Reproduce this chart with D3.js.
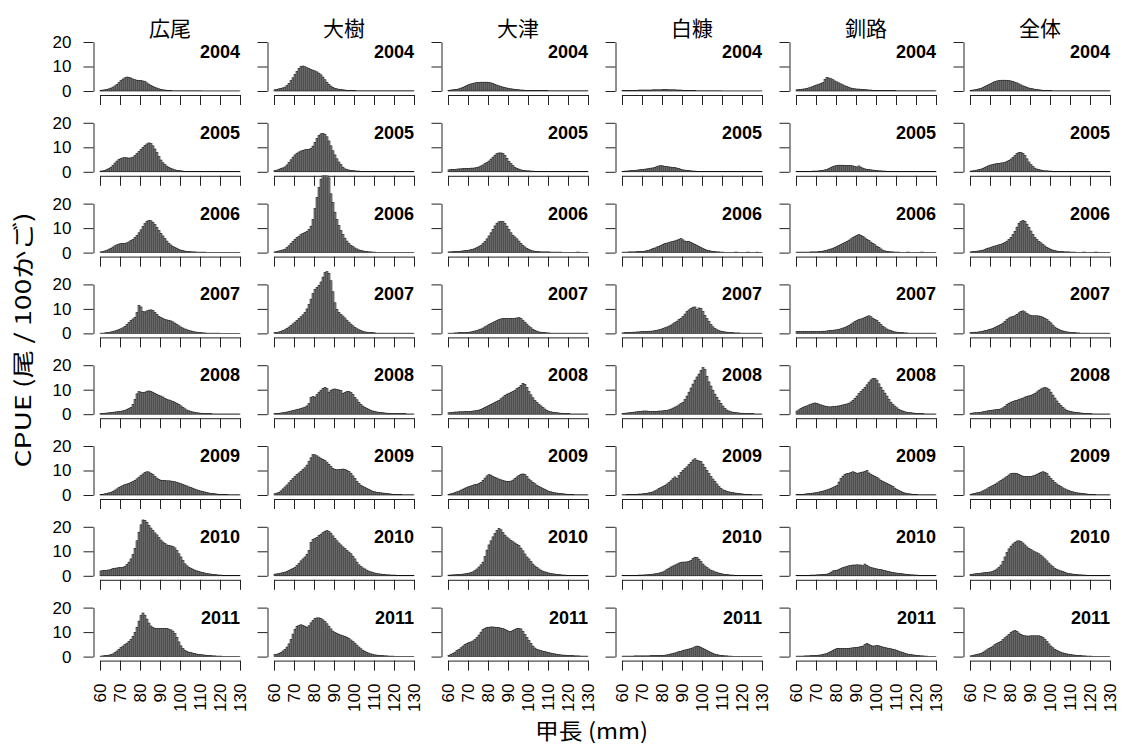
<!DOCTYPE html>
<html>
<head>
<meta charset="utf-8">
<script src="https://cdn.jsdelivr.net/npm/d3@7"></script>
<style>
  body { margin: 0; background: #fff; }
  svg text { font-family: "Liberation Sans", Arial, sans-serif; }
</style>
</head>
<body>
<div id="chart"></div>
<script>
// CPUE (尾/100かご) by carapace length (1 mm bins, 60–129 mm)
const areas = ["広尾", "大樹", "大津", "白糠", "釧路", "全体"];
const years = [2004, 2005, 2006, 2007, 2008, 2009, 2010, 2011];
const firstBin = 60;
const xTicks = [60, 70, 80, 90, 100, 110, 120, 130];
const yTicks = [0, 10, 20];

const hiroo = [
  [0.3,0.4,0.5,0.7,0.9,1.2,1.6,2.1,2.7,3.4,
   4.2,4.9,5.4,5.7,5.6,5.3,4.9,4.6,4.4,4.3,
   4.3,4.1,3.8,3.3,2.8,2.3,1.9,1.5,1.2,0.9,
   0.7,0.5,0.4,0.3,0.2,0.2,0.1,0.1,0.1,0.1,
   0.1,0.1,0.1,0.1,0.1,0.1,0.1,0.1,0.1,0.1,
   0.1,0.05,0.05,0.05,0.05,0.05,0.05,0.05,0.05,0.05,
   0.05,0.05,0.05,0.05,0.05,0.05,0.05,0.05,0.05,0.05],
  [0.3,0.4,0.6,0.9,1.3,1.9,2.7,3.6,4.4,5.0,
   5.4,5.7,5.8,5.7,5.6,5.7,6.0,6.6,7.4,8.3,
   9.2,10.0,10.8,11.4,11.8,11.5,10.6,9.3,7.8,6.2,
   4.8,3.7,2.9,2.3,1.8,1.4,1.1,0.8,0.6,0.5,
   0.4,0.3,0.2,0.2,0.15,0.1,0.1,0.1,0.1,0.1,
   0.1,0.1,0.1,0.1,0.1,0.05,0.05,0.05,0.05,0.05,
   0.05,0.05,0.05,0.05,0.05,0.05,0.05,0.05,0.05,0.05],
  [0.3,0.5,0.7,1.0,1.4,1.8,2.3,2.8,3.2,3.5,
   3.7,3.8,3.8,4.0,4.4,4.9,5.4,6.1,7.0,8.1,
   9.3,10.6,11.8,12.8,13.2,13.0,12.4,11.4,10.2,9.0,
   7.9,6.8,5.7,4.7,3.8,3.1,2.5,2.0,1.6,1.2,
   1.0,0.8,0.6,0.5,0.4,0.35,0.3,0.3,0.2,0.2,
   0.2,0.2,0.2,0.1,0.1,0.1,0.1,0.1,0.1,0.1,
   0.1,0.1,0.1,0.1,0.1,0.1,0.1,0.1,0.1,0.1],
  [0.1,0.1,0.2,0.3,0.4,0.6,0.8,1.0,1.3,1.6,
   1.9,2.3,2.9,3.6,4.4,5.2,5.9,6.6,8.5,11.5,
   10.8,8.9,8.8,9.2,9.5,9.6,9.3,8.6,7.8,7.0,
   6.4,6.0,5.7,5.5,5.3,5.1,4.7,4.2,3.6,3.1,
   2.6,2.2,1.8,1.5,1.2,1.0,0.8,0.6,0.5,0.4,
   0.3,0.2,0.2,0.1,0.1,0.1,0.1,0.1,0.1,0.1,
   0.05,0.05,0.05,0.05,0.05,0.05,0.05,0.05,0.05,0.05],
  [0.2,0.3,0.4,0.5,0.6,0.7,0.8,0.9,1.0,1.1,
   1.2,1.4,1.6,1.9,2.3,2.8,4.0,6.0,8.3,9.2,
   9.0,8.8,9.0,9.4,9.5,9.3,8.9,8.5,8.1,7.7,
   7.4,7.0,6.5,6.1,5.8,5.5,5.2,4.9,4.4,3.9,
   3.4,2.8,2.2,1.7,1.4,1.1,0.9,0.8,0.6,0.5,
   0.4,0.3,0.3,0.2,0.2,0.2,0.1,0.1,0.1,0.1,
   0.1,0.1,0.1,0.1,0.1,0.1,0.1,0.1,0.1,0.1],
  [0.2,0.3,0.5,0.7,0.9,1.1,1.5,2.0,2.5,3.0,
   3.4,3.8,4.2,4.5,4.8,5.1,5.5,6.0,6.6,7.3,
   7.9,8.6,9.2,9.5,9.4,8.9,8.3,7.6,6.9,6.3,
   6.0,5.9,5.9,5.8,5.8,5.7,5.6,5.4,5.1,4.9,
   4.6,4.3,4.0,3.7,3.3,3.0,2.7,2.4,2.1,1.8,
   1.6,1.4,1.2,1.0,0.8,0.7,0.6,0.5,0.4,0.3,
   0.3,0.2,0.2,0.2,0.1,0.1,0.1,0.1,0.1,0.1],
  [2.0,2.1,2.2,2.3,2.4,2.6,2.9,3.1,3.2,3.3,
   3.3,3.5,3.9,4.6,5.6,6.9,8.7,11.2,14.3,17.8,
   20.8,22.8,22.6,21.8,20.6,19.5,18.5,17.5,16.7,15.6,
   14.6,13.8,13.1,12.6,12.4,12.2,11.9,11.4,10.3,9.0,
   7.7,6.2,4.9,4.1,3.5,3.1,2.7,2.3,2.0,1.7,
   1.5,1.3,1.1,0.9,0.8,0.7,0.6,0.5,0.4,0.3,
   0.3,0.2,0.2,0.1,0.1,0.1,0.1,0.1,0.1,0.1],
  [0.2,0.3,0.4,0.5,0.6,0.8,1.1,1.6,2.3,3.0,
   3.7,4.3,4.9,5.5,6.2,7.1,8.3,9.9,12.0,14.5,
   16.8,17.8,16.9,15.3,13.7,12.5,11.8,11.5,11.4,11.4,
   11.5,11.5,11.5,11.4,11.2,10.9,10.4,9.4,7.9,6.0,
   4.4,3.3,2.6,2.1,1.8,1.6,1.4,1.2,1.0,0.9,
   0.8,0.7,0.6,0.5,0.4,0.4,0.3,0.3,0.2,0.2,
   0.2,0.1,0.1,0.1,0.1,0.1,0.1,0.1,0.1,0.1]
];

const taiki = [
  [0.5,0.7,0.9,1.1,1.3,1.6,2.2,3.1,4.2,5.4,
   6.7,8.0,9.2,10.0,10.2,9.9,9.5,9.1,8.8,8.5,
   8.2,7.8,7.3,6.6,5.7,4.6,3.6,2.7,2.0,1.5,
   1.1,0.9,0.7,0.6,0.5,0.4,0.3,0.3,0.2,0.2,
   0.2,0.1,0.1,0.1,0.1,0.1,0.1,0.1,0.1,0.1,
   0.1,0.1,0.1,0.1,0.1,0.1,0.1,0.1,0.1,0.1,
   0.1,0.1,0.1,0.1,0.1,0.1,0.1,0.1,0.1,0.1],
  [0.5,0.7,1.0,1.3,1.6,2.0,2.8,3.8,4.9,6.0,
   6.9,7.6,8.1,8.5,8.8,9.0,9.1,9.2,9.6,10.5,
   12.0,13.6,14.8,15.5,15.7,15.3,14.3,12.6,10.6,8.6,
   6.9,5.3,4.0,2.9,1.9,1.2,0.9,0.7,0.6,0.5,
   0.4,0.3,0.3,0.2,0.1,0.1,0.1,0.1,0.1,0.1,
   0.1,0.1,0.1,0.1,0.1,0.1,0.1,0.1,0.1,0.1,
   0.1,0.1,0.1,0.1,0.1,0.1,0.1,0.1,0.1,0.1],
  [0.3,0.5,0.7,0.9,1.1,1.4,2.0,2.8,3.7,4.6,
   5.4,6.1,6.7,7.3,7.8,8.2,8.7,9.5,10.8,13.5,
   18.0,22.5,26.5,30.0,33.0,35.0,34.0,30.5,24.0,20.5,
   16.5,13.5,11.0,9.0,7.3,5.9,4.7,3.8,3.0,2.4,
   1.9,1.5,1.1,0.9,0.7,0.5,0.4,0.3,0.3,0.2,
   0.2,0.1,0.1,0.1,0.1,0.1,0.1,0.1,0.1,0.1,
   0.1,0.1,0.1,0.1,0.1,0.1,0.1,0.1,0.1,0.1],
  [0.3,0.4,0.6,0.8,1.1,1.5,2.0,2.6,3.2,3.9,
   4.6,5.3,6.0,6.8,7.6,8.6,10.0,11.8,14.0,16.3,
   18.0,18.8,19.6,21.0,23.0,24.8,25.2,24.5,21.5,17.0,
   12.5,9.8,8.6,7.8,7.1,6.3,5.4,4.6,3.8,3.1,
   2.5,1.9,1.5,1.1,0.8,0.6,0.5,0.4,0.3,0.3,
   0.2,0.1,0.1,0.1,0.1,0.1,0.1,0.1,0.1,0.1,
   0.1,0.1,0.1,0.1,0.1,0.1,0.1,0.1,0.1,0.1],
  [0.2,0.3,0.4,0.5,0.6,0.8,0.9,1.1,1.3,1.5,
   1.7,1.9,2.1,2.3,2.6,2.9,3.4,4.3,6.8,7.2,
   7.0,8.0,9.0,9.8,10.5,11.0,10.4,9.0,9.8,10.2,
   10.3,10.1,9.9,9.6,8.5,8.9,9.3,9.2,8.9,8.0,
   6.9,5.9,4.9,4.0,3.3,2.8,2.3,1.9,1.6,1.3,
   1.1,0.9,0.8,0.7,0.6,0.5,0.4,0.4,0.3,0.3,
   0.3,0.2,0.2,0.2,0.2,0.2,0.1,0.1,0.1,0.1],
  [0.5,0.8,1.1,1.7,2.5,3.3,4.1,5.0,5.9,6.7,
   7.5,8.3,9.0,9.7,10.4,11.1,12.2,13.6,15.2,16.5,
   16.4,16.0,15.5,14.9,14.5,14.1,13.4,12.5,11.6,10.9,
   10.5,10.3,10.4,10.5,10.6,10.5,10.1,9.6,8.9,7.8,
   6.7,5.6,4.7,4.0,3.4,3.0,2.6,2.2,1.8,1.5,
   1.3,1.1,1.0,0.9,0.8,0.7,0.6,0.5,0.4,0.3,
   0.3,0.2,0.2,0.2,0.1,0.1,0.1,0.1,0.1,0.1],
  [0.7,0.8,0.9,1.1,1.3,1.5,1.8,2.2,2.6,3.0,
   3.5,4.2,5.1,6.1,6.9,7.7,8.8,10.4,13.5,14.8,
   15.2,15.7,16.4,17.0,17.6,18.2,18.4,18.0,17.4,16.3,
   15.2,14.3,13.4,12.6,11.8,11.1,10.4,9.7,9.0,8.0,
   6.9,5.6,4.5,3.8,3.2,2.8,2.3,1.9,1.6,1.3,
   1.1,0.9,0.8,0.7,0.6,0.5,0.4,0.4,0.3,0.3,
   0.3,0.2,0.2,0.1,0.1,0.1,0.1,0.1,0.1,0.1],
  [0.8,1.0,1.3,1.7,2.3,3.0,3.9,5.2,7.0,9.2,
   11.2,12.4,12.8,13.0,12.8,12.4,12.0,12.6,13.8,14.8,
   15.5,15.8,15.8,15.5,15.0,14.3,13.4,12.4,11.3,10.4,
   9.8,9.4,9.1,8.8,8.5,8.2,7.9,7.4,6.8,6.2,
   5.5,4.7,3.9,3.2,2.6,2.1,1.7,1.4,1.1,0.9,
   0.7,0.6,0.5,0.4,0.4,0.3,0.3,0.2,0.2,0.2,
   0.1,0.1,0.1,0.1,0.1,0.1,0.1,0.1,0.1,0.1]
];

const otsu = [
  [0.3,0.4,0.5,0.6,0.7,0.9,1.2,1.5,1.9,2.3,
   2.6,2.9,3.1,3.3,3.4,3.5,3.6,3.6,3.6,3.6,
   3.5,3.3,3.0,2.7,2.4,2.1,1.8,1.6,1.4,1.2,
   1.0,0.9,0.8,0.7,0.6,0.5,0.4,0.4,0.3,0.3,
   0.3,0.2,0.2,0.2,0.2,0.2,0.2,0.2,0.2,0.2,
   0.1,0.1,0.1,0.1,0.1,0.1,0.1,0.1,0.1,0.1,
   0.1,0.1,0.1,0.1,0.1,0.1,0.1,0.1,0.1,0.1],
  [0.8,0.9,1.0,1.0,1.1,1.2,1.2,1.3,1.3,1.4,
   1.4,1.5,1.5,1.6,1.8,2.0,2.4,2.8,3.3,3.8,
   4.4,5.2,6.0,6.8,7.4,7.7,7.7,7.4,6.6,5.5,
   4.3,3.3,2.5,1.8,1.4,1.1,0.8,0.6,0.5,0.4,
   0.4,0.3,0.3,0.2,0.2,0.2,0.1,0.1,0.1,0.1,
   0.1,0.1,0.1,0.1,0.1,0.1,0.1,0.1,0.1,0.1,
   0.1,0.1,0.1,0.1,0.1,0.1,0.1,0.1,0.1,0.1],
  [0.3,0.3,0.4,0.4,0.5,0.5,0.6,0.7,0.8,0.9,
   1.0,1.2,1.4,1.7,2.0,2.4,3.0,3.7,4.5,5.6,
   6.8,8.1,9.5,10.9,12.0,12.6,12.8,12.7,11.9,10.8,
   9.4,8.1,7.1,6.4,5.6,4.7,3.8,3.0,2.3,1.7,
   1.3,0.9,0.7,0.5,0.4,0.4,0.3,0.3,0.3,0.3,
   0.3,0.2,0.2,0.2,0.2,0.2,0.2,0.1,0.1,0.1,
   0.1,0.1,0.1,0.1,0.2,0.2,0.1,0.1,0.1,0.1],
  [0.1,0.1,0.1,0.2,0.2,0.3,0.3,0.3,0.4,0.4,
   0.5,0.6,0.8,1.0,1.2,1.5,1.8,2.2,2.7,3.1,
   3.6,4.0,4.4,4.8,5.2,5.6,5.9,6.0,6.1,6.0,
   6.0,6.1,6.0,6.2,6.3,6.4,6.0,5.4,4.6,3.8,
   3.0,2.3,1.7,1.2,0.9,0.6,0.5,0.4,0.3,0.2,
   0.2,0.1,0.1,0.1,0.1,0.1,0.1,0.1,0.1,0.1,
   0.1,0.1,0.1,0.1,0.1,0.1,0.1,0.1,0.1,0.1],
  [0.6,0.7,0.8,0.9,0.9,1.0,1.0,1.0,1.1,1.1,
   1.1,1.2,1.3,1.4,1.5,1.7,2.0,2.4,2.8,3.2,
   3.6,4.0,4.4,4.9,5.3,5.7,6.3,7.0,7.7,8.2,
   8.5,8.9,9.3,9.8,10.4,11.0,11.8,12.6,12.2,10.9,
   9.2,7.9,6.7,5.6,4.8,4.1,3.4,2.7,2.1,1.6,
   1.2,1.0,0.8,0.7,0.6,0.5,0.4,0.3,0.3,0.2,
   0.2,0.1,0.1,0.1,0.1,0.1,0.1,0.1,0.1,0.1],
  [0.3,0.5,0.7,1.0,1.3,1.6,2.0,2.4,2.8,3.1,
   3.4,3.7,4.0,4.2,4.4,4.7,5.2,6.0,6.9,7.8,
   8.3,8.1,7.6,7.2,6.9,6.5,6.2,5.9,5.7,5.6,
   5.6,5.7,6.1,6.7,7.4,8.0,8.5,8.6,8.3,7.5,
   6.5,5.8,5.2,4.6,4.0,3.5,3.0,2.6,2.2,1.8,
   1.5,1.3,1.1,0.9,0.8,0.7,0.6,0.5,0.4,0.3,
   0.3,0.2,0.2,0.1,0.1,0.1,0.1,0.1,0.1,0.1],
  [0.3,0.3,0.4,0.4,0.5,0.5,0.6,0.7,0.8,0.9,
   1.1,1.3,1.6,2.1,2.8,3.6,4.5,5.6,7.8,10.5,
   12.6,14.3,15.9,17.2,18.4,19.3,18.8,17.6,16.6,15.8,
   15.1,14.5,13.9,13.4,12.9,12.3,11.3,10.2,8.9,7.7,
   6.9,5.8,4.8,4.0,3.3,2.8,2.3,1.9,1.6,1.3,
   1.1,0.9,0.8,0.7,0.6,0.5,0.4,0.3,0.3,0.2,
   0.2,0.1,0.1,0.1,0.1,0.1,0.1,0.1,0.1,0.1],
  [0.5,0.9,1.3,1.8,2.4,3.0,3.6,4.3,4.9,5.3,
   5.7,6.0,6.4,7.0,7.8,8.8,10.0,11.0,11.6,11.9,
   12.0,12.1,12.1,12.0,11.9,11.8,11.6,11.4,11.1,10.7,
   10.2,10.3,10.7,11.1,11.4,11.5,11.3,10.3,9.1,7.8,
   6.5,5.4,4.3,3.5,3.0,2.7,2.4,2.2,2.0,1.8,
   1.6,1.4,1.2,1.1,0.9,0.8,0.7,0.6,0.6,0.5,
   0.5,0.4,0.4,0.3,0.3,0.3,0.2,0.2,0.2,0.2]
];

const shiranuka = [
  [0.2,0.2,0.2,0.3,0.3,0.3,0.3,0.3,0.4,0.4,
   0.4,0.4,0.4,0.4,0.4,0.5,0.5,0.5,0.5,0.5,
   0.6,0.6,0.6,0.5,0.5,0.5,0.5,0.4,0.4,0.4,
   0.3,0.3,0.3,0.2,0.2,0.2,0.2,0.1,0.1,0.1,
   0.1,0.1,0.1,0.1,0.1,0.1,0.1,0.1,0.1,0.1,
   0.05,0.05,0.05,0.05,0.05,0.05,0.05,0.05,0.05,0.05,
   0.05,0.05,0.05,0.05,0.05,0.05,0.05,0.05,0.05,0.05],
  [0.2,0.3,0.3,0.4,0.5,0.5,0.6,0.7,0.8,0.9,
   1.0,1.1,1.2,1.3,1.5,1.6,1.8,2.1,2.4,2.5,
   2.4,2.2,2.1,2.0,1.9,1.8,1.7,1.5,1.3,1.0,
   0.8,0.7,0.6,0.5,0.4,0.3,0.3,0.2,0.2,0.2,
   0.2,0.1,0.1,0.1,0.1,0.1,0.1,0.1,0.1,0.1,
   0.1,0.1,0.1,0.1,0.1,0.1,0.1,0.1,0.1,0.1,
   0.1,0.1,0.1,0.1,0.1,0.1,0.1,0.1,0.1,0.1],
  [0.2,0.2,0.2,0.3,0.3,0.3,0.3,0.4,0.4,0.5,
   0.5,0.6,0.8,1.0,1.3,1.6,1.9,2.3,2.6,3.0,
   3.4,3.7,3.9,4.1,4.4,4.6,4.8,5.1,5.4,5.7,
   5.2,4.7,4.6,4.5,4.2,3.8,3.4,3.0,2.5,2.0,
   1.6,1.3,1.0,0.8,0.6,0.5,0.4,0.3,0.3,0.2,
   0.2,0.1,0.1,0.1,0.1,0.1,0.2,0.2,0.1,0.1,
   0.1,0.1,0.2,0.2,0.1,0.1,0.1,0.2,0.1,0.1],
  [0.2,0.3,0.3,0.4,0.4,0.5,0.5,0.6,0.6,0.7,
   0.7,0.8,0.8,0.9,0.9,1.0,1.1,1.3,1.5,1.7,
   2.0,2.3,2.6,3.0,3.4,3.9,4.4,5.0,5.6,6.2,
   6.9,7.9,8.9,9.6,10.2,10.7,10.8,9.8,10.4,10.2,
   8.9,7.3,6.0,4.8,3.6,2.7,2.0,1.5,1.1,0.9,
   0.7,0.6,0.5,0.4,0.3,0.3,0.2,0.2,0.2,0.1,
   0.1,0.1,0.1,0.1,0.1,0.1,0.1,0.1,0.1,0.1],
  [0.3,0.4,0.5,0.6,0.7,0.8,0.9,1.0,1.1,1.2,
   1.3,1.3,1.3,1.2,1.2,1.2,1.2,1.2,1.3,1.3,
   1.4,1.5,1.6,1.8,2.1,2.5,2.9,3.3,3.8,4.3,
   4.9,6.0,7.4,9.0,10.7,12.3,13.9,15.2,16.4,17.8,
   19.0,18.2,15.5,13.2,11.5,9.8,8.2,6.9,5.7,4.4,
   3.3,2.4,1.7,1.3,1.0,0.8,0.7,0.6,0.5,0.4,
   0.4,0.3,0.3,0.2,0.2,0.2,0.1,0.1,0.1,0.1],
  [0.1,0.1,0.2,0.2,0.2,0.3,0.3,0.3,0.4,0.4,
   0.5,0.6,0.7,0.9,1.1,1.3,1.7,2.1,2.6,3.0,
   3.4,3.9,4.5,5.1,5.8,6.7,7.4,6.8,7.9,9.2,
   10.1,10.8,11.5,12.4,13.3,14.3,14.8,14.2,13.9,13.7,
   12.6,11.3,10.0,8.7,7.5,6.5,5.6,4.5,3.4,2.7,
   2.1,1.8,1.5,1.3,1.1,1.0,0.8,0.7,0.6,0.5,
   0.4,0.3,0.3,0.2,0.2,0.1,0.1,0.1,0.1,0.1],
  [0.1,0.1,0.1,0.1,0.2,0.2,0.2,0.2,0.3,0.3,
   0.3,0.4,0.4,0.5,0.6,0.7,0.8,0.9,1.1,1.3,
   1.6,2.0,2.5,3.1,3.6,4.0,4.4,4.8,5.2,5.5,
   5.6,5.6,5.7,5.9,6.2,7.0,7.6,7.4,6.8,5.8,
   4.8,4.0,3.3,2.8,2.3,2.0,1.6,1.3,1.1,0.9,
   0.7,0.6,0.5,0.4,0.3,0.3,0.2,0.2,0.2,0.1,
   0.1,0.1,0.1,0.1,0.1,0.1,0.1,0.1,0.1,0.1],
  [0.2,0.2,0.2,0.2,0.2,0.2,0.3,0.3,0.3,0.3,
   0.3,0.3,0.3,0.3,0.4,0.4,0.4,0.4,0.5,0.5,
   0.5,0.6,0.7,0.9,1.1,1.3,1.5,1.7,2.0,2.2,
   2.5,2.7,2.9,3.1,3.3,3.6,4.0,4.3,4.1,3.8,
   3.4,2.9,2.5,2.0,1.6,1.3,1.0,0.8,0.6,0.5,
   0.4,0.3,0.3,0.2,0.2,0.1,0.1,0.1,0.1,0.1,
   0.1,0.1,0.1,0.1,0.1,0.1,0.1,0.1,0.1,0.1]
];

const kushiro = [
  [0.5,0.6,0.7,0.8,0.9,1.1,1.3,1.6,1.9,2.2,
   2.5,2.8,3.1,3.4,4.8,5.6,5.3,5.0,4.6,4.1,
   3.7,3.3,2.9,2.5,2.1,1.8,1.5,1.2,1.0,0.9,
   0.8,0.8,0.7,0.6,0.6,0.5,0.4,0.4,0.3,0.3,
   0.3,0.2,0.2,0.2,0.2,0.2,0.2,0.2,0.2,0.2,
   0.1,0.1,0.1,0.1,0.1,0.1,0.1,0.1,0.1,0.1,
   0.1,0.1,0.1,0.1,0.1,0.1,0.1,0.1,0.1,0.1],
  [0.1,0.1,0.1,0.1,0.2,0.2,0.2,0.2,0.3,0.3,
   0.3,0.4,0.5,0.6,0.8,1.0,1.3,1.7,2.1,2.4,
   2.6,2.7,2.7,2.7,2.6,2.6,2.6,2.5,2.4,2.1,
   2.0,2.4,1.9,1.5,1.2,1.0,0.9,0.8,0.7,0.6,
   0.5,0.4,0.4,0.3,0.3,0.2,0.2,0.2,0.2,0.2,
   0.1,0.1,0.1,0.1,0.1,0.1,0.1,0.1,0.1,0.1,
   0.1,0.1,0.1,0.1,0.1,0.1,0.1,0.1,0.1,0.1],
  [0.2,0.2,0.2,0.2,0.2,0.2,0.2,0.3,0.3,0.3,
   0.3,0.4,0.5,0.6,0.8,1.0,1.2,1.5,1.8,2.1,
   2.5,2.9,3.3,3.7,4.1,4.6,5.1,5.6,6.2,6.7,
   7.1,7.4,7.0,6.6,6.0,5.4,4.9,4.3,3.8,3.2,
   2.6,2.1,1.5,1.0,0.7,0.5,0.4,0.3,0.3,0.2,
   0.2,0.2,0.1,0.1,0.1,0.2,0.2,0.1,0.1,0.1,
   0.1,0.1,0.2,0.2,0.1,0.1,0.1,0.1,0.1,0.1],
  [0.7,0.7,0.7,0.7,0.7,0.7,0.7,0.7,0.7,0.7,
   0.7,0.8,0.8,0.9,0.9,1.0,1.1,1.2,1.3,1.4,
   1.5,1.7,1.9,2.2,2.5,2.8,3.2,3.8,4.3,4.8,
   5.2,5.6,5.9,6.2,6.5,6.9,7.2,6.8,6.2,5.7,
   5.2,4.4,3.6,2.9,2.3,1.8,1.4,1.1,0.8,0.6,
   0.5,0.4,0.3,0.3,0.2,0.2,0.1,0.1,0.1,0.1,
   0.1,0.1,0.1,0.1,0.1,0.1,0.1,0.1,0.1,0.1],
  [1.3,1.8,2.4,2.8,3.1,3.4,3.8,4.1,4.4,4.6,
   4.4,4.1,3.8,3.5,3.3,3.1,3.0,3.0,3.1,3.2,
   3.3,3.4,3.6,3.8,4.0,4.2,4.5,5.0,5.7,6.5,
   7.4,8.4,9.3,10.1,11.0,12.0,13.1,14.0,14.6,14.5,
   13.9,12.4,11.0,9.8,8.6,7.4,6.1,4.9,4.0,3.3,
   2.6,2.0,1.6,1.3,1.0,0.8,0.7,0.6,0.5,0.4,
   0.3,0.3,0.2,0.2,0.1,0.1,0.1,0.1,0.1,0.1],
  [0.2,0.2,0.3,0.3,0.4,0.5,0.6,0.7,0.8,0.9,
   1.0,1.2,1.4,1.6,1.8,2.1,2.4,2.7,3.0,3.4,
   3.9,5.3,6.7,7.7,8.4,8.7,8.9,9.2,9.5,9.1,
   8.7,9.0,9.2,9.4,9.6,10.0,9.0,8.5,8.0,7.6,
   7.2,6.6,5.9,5.5,5.1,4.8,4.3,3.9,3.4,2.8,
   2.2,1.8,1.4,1.0,0.8,0.6,0.5,0.4,0.3,0.3,
   0.2,0.1,0.1,0.1,0.1,0.1,0.1,0.1,0.1,0.1],
  [0.1,0.1,0.1,0.2,0.2,0.2,0.2,0.3,0.3,0.3,
   0.4,0.4,0.5,0.5,0.6,0.7,1.0,1.5,2.0,2.2,
   2.3,2.6,3.0,3.3,3.6,3.9,4.1,4.3,4.4,4.4,
   4.5,4.4,4.4,4.1,4.8,4.2,3.7,3.4,3.2,3.0,
   2.8,2.6,2.5,2.3,2.1,1.9,1.7,1.5,1.4,1.2,
   1.1,1.0,0.9,0.8,0.7,0.6,0.5,0.4,0.4,0.3,
   0.3,0.2,0.2,0.1,0.1,0.1,0.1,0.1,0.1,0.1],
  [0.2,0.2,0.2,0.2,0.3,0.3,0.3,0.4,0.4,0.5,
   0.5,0.6,0.7,0.9,1.1,1.3,1.7,2.1,2.6,3.0,
   3.4,3.4,3.3,3.3,3.3,3.3,3.4,3.5,3.6,3.7,
   3.8,3.9,4.1,4.3,4.9,5.4,5.0,4.6,4.3,4.4,
   4.6,4.4,4.1,3.9,3.7,3.5,3.4,3.2,3.0,2.8,
   2.5,2.2,1.9,1.6,1.3,1.1,0.9,0.8,0.7,0.6,
   0.5,0.4,0.3,0.3,0.2,0.2,0.1,0.1,0.1,0.1]
];

const zentai = [
  [0.3,0.4,0.5,0.7,0.9,1.1,1.4,1.8,2.2,2.6,
   3.0,3.4,3.8,4.1,4.3,4.4,4.4,4.4,4.3,4.2,
   4.1,3.9,3.6,3.3,2.9,2.5,2.1,1.8,1.5,1.2,
   1.0,0.9,0.7,0.6,0.5,0.4,0.3,0.3,0.3,0.2,
   0.2,0.1,0.1,0.1,0.1,0.1,0.1,0.1,0.1,0.1,
   0.1,0.1,0.1,0.1,0.1,0.1,0.1,0.1,0.1,0.1,
   0.1,0.1,0.1,0.1,0.1,0.1,0.1,0.1,0.1,0.1],
  [0.3,0.4,0.5,0.7,0.9,1.1,1.4,1.7,2.1,2.5,
   2.8,3.0,3.2,3.3,3.4,3.6,3.7,3.9,4.3,4.7,
   5.2,5.9,6.6,7.4,7.9,7.9,7.5,6.6,5.3,4.0,
   2.9,2.1,1.5,1.1,0.9,0.7,0.5,0.4,0.4,0.3,
   0.3,0.2,0.2,0.1,0.1,0.1,0.1,0.1,0.1,0.1,
   0.1,0.1,0.1,0.1,0.1,0.1,0.1,0.1,0.1,0.1,
   0.1,0.1,0.1,0.1,0.1,0.1,0.1,0.1,0.1,0.1],
  [0.3,0.4,0.5,0.6,0.7,0.8,1.0,1.3,1.6,1.9,
   2.1,2.4,2.7,2.9,3.2,3.4,3.8,4.2,4.7,5.4,
   6.2,7.3,8.7,10.4,12.0,12.8,13.1,12.8,11.6,10.3,
   8.8,7.4,6.2,5.3,4.6,4.0,3.4,2.7,2.1,1.6,
   1.3,1.0,0.8,0.6,0.5,0.4,0.4,0.3,0.3,0.3,
   0.2,0.2,0.2,0.1,0.1,0.1,0.2,0.2,0.1,0.1,
   0.1,0.1,0.2,0.2,0.1,0.1,0.1,0.1,0.1,0.1],
  [0.3,0.4,0.5,0.5,0.6,0.7,0.9,1.1,1.3,1.6,
   1.8,2.1,2.5,2.9,3.2,3.6,4.2,4.9,5.6,6.3,
   6.7,6.9,7.2,7.8,8.4,9.0,9.2,8.8,8.1,7.6,
   7.3,7.2,7.2,7.2,7.1,6.9,6.6,6.2,5.6,5.0,
   4.3,3.4,2.6,2.0,1.6,1.3,1.0,0.8,0.6,0.5,
   0.4,0.3,0.3,0.2,0.2,0.1,0.1,0.1,0.1,0.1,
   0.1,0.1,0.1,0.1,0.1,0.1,0.1,0.1,0.1,0.1],
  [0.4,0.5,0.6,0.6,0.7,0.8,1.0,1.1,1.3,1.5,
   1.6,1.7,1.8,1.9,2.0,2.2,2.6,3.2,3.9,4.5,
   4.9,5.2,5.5,5.7,6.0,6.3,6.6,7.0,7.3,7.5,
   7.7,8.0,8.5,9.1,9.8,10.3,10.7,10.9,10.7,10.2,
   9.0,7.8,6.6,5.4,4.4,3.5,2.8,2.1,1.6,1.3,
   1.1,0.9,0.8,0.7,0.6,0.5,0.4,0.3,0.3,0.2,
   0.2,0.1,0.1,0.1,0.1,0.1,0.1,0.1,0.1,0.1],
  [0.3,0.5,0.7,0.9,1.1,1.3,1.7,2.1,2.5,3.0,
   3.4,3.9,4.4,4.9,5.4,5.9,6.5,7.0,7.5,8.2,
   8.7,8.9,8.9,8.7,8.4,8.0,7.7,7.5,7.5,7.5,
   7.6,7.8,8.1,8.5,8.9,9.3,9.5,9.3,8.7,7.7,
   6.7,5.9,5.1,4.5,3.9,3.4,2.9,2.5,2.1,1.8,
   1.5,1.3,1.1,0.9,0.8,0.7,0.6,0.5,0.4,0.3,
   0.3,0.2,0.2,0.1,0.1,0.1,0.1,0.1,0.1,0.1],
  [0.6,0.7,0.8,0.9,1.0,1.1,1.2,1.3,1.4,1.5,
   1.6,1.9,2.3,2.8,3.5,4.4,5.9,7.7,9.5,11.0,
   12.1,13.0,13.7,14.2,14.3,14.0,13.4,12.6,11.8,11.2,
   10.7,10.2,9.8,9.4,9.0,8.4,7.7,6.9,6.1,5.2,
   4.4,3.7,3.1,2.6,2.3,2.0,1.7,1.4,1.1,0.9,
   0.8,0.7,0.6,0.5,0.4,0.4,0.3,0.3,0.2,0.2,
   0.2,0.1,0.1,0.1,0.1,0.1,0.1,0.1,0.1,0.1],
  [0.3,0.5,0.7,0.9,1.1,1.3,1.8,2.3,2.8,3.3,
   3.8,4.3,4.9,5.4,5.8,6.2,6.9,7.7,8.4,9.1,
   9.8,10.4,10.7,10.3,9.6,9.1,8.7,8.5,8.4,8.4,
   8.5,8.5,8.5,8.5,8.5,8.3,7.9,7.1,6.2,5.2,
   4.3,3.6,3.0,2.5,2.1,1.8,1.5,1.3,1.1,0.9,
   0.8,0.7,0.6,0.5,0.4,0.4,0.3,0.3,0.2,0.2,
   0.2,0.1,0.1,0.1,0.1,0.1,0.1,0.1,0.1,0.1]
];

const cpue = [hiroo, taiki, otsu, shiranuka, kushiro, zentai];

// layout (px)
const W = 1123, H = 744;
const colLeft = 100, colStep = 174, panelW = 140;
const rowBase = 91, rowStep = 80.8, unit20 = 49;
const yClipTop = 31.6; // panel top in data units

const svg = d3.select("#chart").append("svg")
  .attr("width", W)
  .attr("height", H)
  .style("background", "#fff");

const defs = svg.append("defs");

areas.forEach((area, i) => {
  const x0 = colLeft + colStep * i;
  const x = d3.scaleLinear().domain([60, 130]).range([x0, x0 + panelW]);

  // column title
  svg.append("text")
    .attr("x", x0 + panelW / 2)
    .attr("y", 36)
    .attr("text-anchor", "middle")
    .style("font-family", "'Noto Sans CJK JP', sans-serif")
    .style("font-size", "21px")
    .text(area);

  years.forEach((year, j) => {
    const base = rowBase + rowStep * j;
    const y = d3.scaleLinear().domain([0, 20]).range([base, base - unit20]);
    const values = cpue[i][j];
    const bins = values.map((v, k) => ({ lo: firstBin + k, v }));

    const clipId = `clip-${i}-${j}`;
    defs.append("clipPath").attr("id", clipId)
      .append("rect")
      .attr("x", x(57))
      .attr("y", y(yClipTop))
      .attr("width", x(133) - x(57))
      .attr("height", y(-1) - y(yClipTop));

    const g = svg.append("g");

    g.append("g")
      .attr("clip-path", `url(#${clipId})`)
      .selectAll("rect")
      .data(bins)
      .join("rect")
      .attr("x", d => x(d.lo))
      .attr("width", d => x(d.lo + 1) - x(d.lo))
      .attr("y", d => y(d.v))
      .attr("height", d => y(0) - y(d.v))
      .attr("fill", "#8a8a8a")
      .attr("stroke", "#111")
      .attr("stroke-width", 0.55);

    // x axis
    const xAxis = g.append("g")
      .attr("transform", `translate(0,${base + 4})`)
      .call(d3.axisBottom(x)
        .tickValues(xTicks)
        .tickSize(10)
        .tickSizeOuter(0)
        .tickFormat(j === years.length - 1 ? d3.format("d") : ""));
    xAxis.select(".domain").attr("stroke", "#222");
    xAxis.selectAll(".tick line").attr("stroke", "#222");
    if (j === years.length - 1) {
      xAxis.selectAll(".tick text")
        .attr("transform", "rotate(-90)")
        .attr("x", -23)
        .attr("y", 0)
        .attr("dy", "0.35em")
        .attr("text-anchor", "end")
        .attr("fill", "#000")
        .style("font-size", "17px");
    }

    // y axis
    const yAxis = g.append("g")
      .attr("transform", `translate(${x0 - 6.5},0)`)
      .call(d3.axisLeft(y)
        .tickValues(yTicks)
        .tickSize(10)
        .tickSizeOuter(0)
        .tickPadding(12)
        .tickFormat(i === 0 ? d3.format("d") : ""));
    yAxis.select(".domain").attr("stroke", "#222");
    yAxis.selectAll(".tick line").attr("stroke", "#222");
    yAxis.selectAll(".tick text")
      .attr("fill", "#000")
      .style("font-size", "17px");

    // year label
    g.append("text")
      .attr("x", x(130))
      .attr("y", base - 33)
      .attr("text-anchor", "end")
      .style("font-size", "18px")
      .style("font-weight", "bold")
      .text(year);
  });
});

// axis titles
svg.append("text")
  .attr("transform", "translate(31,340) rotate(-90)")
  .attr("text-anchor", "middle")
  .attr("textLength", 255)
  .attr("lengthAdjust", "spacingAndGlyphs")
  .style("font-family", "'Noto Sans CJK JP', sans-serif")
  .style("font-size", "22px")
  .text("CPUE (尾 / 100かご)");

svg.append("text")
  .attr("x", 535)
  .attr("y", 739)
  .attr("textLength", 113)
  .attr("lengthAdjust", "spacingAndGlyphs")
  .style("font-family", "'Noto Sans CJK JP', sans-serif")
  .style("font-size", "22px")
  .text("甲長 (mm)");
</script>
</body>
</html>
